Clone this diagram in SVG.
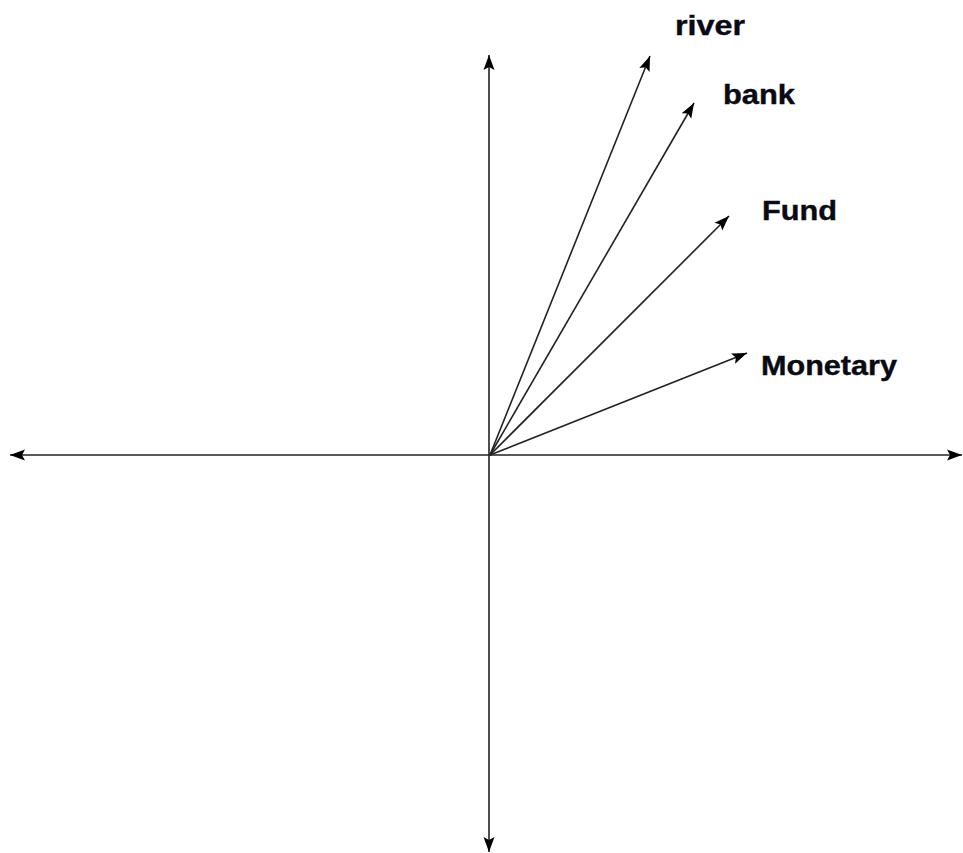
<svg xmlns="http://www.w3.org/2000/svg" width="963" height="853" viewBox="0 0 963 853">
<style>
.ax{stroke:#222;stroke-width:1.6;fill:none}
.lbl{font-family:"Liberation Sans",Arial,sans-serif;font-weight:bold;font-size:27px;fill:#0a0a14}
</style>
<defs>
<marker id="ah" markerUnits="userSpaceOnUse" markerWidth="16" markerHeight="12" refX="15" refY="6" orient="auto" viewBox="0 0 16 12">
<path d="M0,0.5 L15,6 L0,11.5 L3,6 Z" fill="#000"/>
</marker>
<marker id="ahs" markerUnits="userSpaceOnUse" markerWidth="16" markerHeight="12" refX="1" refY="6" orient="auto" viewBox="0 0 16 12">
<path d="M16,0.5 L1,6 L16,11.5 L13,6 Z" fill="#000"/>
</marker>
</defs>
<rect width="963" height="853" fill="#fff"/>
<g id="connectors">
<line id="x-axis" class="ax" x1="10" y1="455" x2="962" y2="455" marker-start="url(#ahs)" marker-end="url(#ah)"/>
<line id="y-axis" class="ax" x1="489" y1="55" x2="489" y2="852" marker-start="url(#ahs)" marker-end="url(#ah)"/>
<line class="ax" x1="490" y1="455" x2="650" y2="56" marker-end="url(#ah)"/>
<line class="ax" x1="490" y1="455" x2="694" y2="103" marker-end="url(#ah)"/>
<line class="ax" x1="490" y1="455" x2="729" y2="216" marker-end="url(#ah)"/>
<line class="ax" x1="490" y1="455" x2="747" y2="353" marker-end="url(#ah)"/>
</g>
<g id="river"><text class="lbl" x="675" y="35" textLength="70" lengthAdjust="spacingAndGlyphs" stroke="#0a0a14" stroke-width="0.4">river</text></g>
<g id="bank"><text class="lbl" x="723" y="104" textLength="72" lengthAdjust="spacingAndGlyphs" stroke="#0a0a14" stroke-width="0.4">bank</text></g>
<g id="Fund"><text class="lbl" x="762" y="220" textLength="75" lengthAdjust="spacingAndGlyphs" stroke="#0a0a14" stroke-width="0.4">Fund</text></g>
<g id="Monetary"><text class="lbl" x="761" y="375" textLength="136" lengthAdjust="spacingAndGlyphs" stroke="#0a0a14" stroke-width="0.4">Monetary</text></g>
</svg>
